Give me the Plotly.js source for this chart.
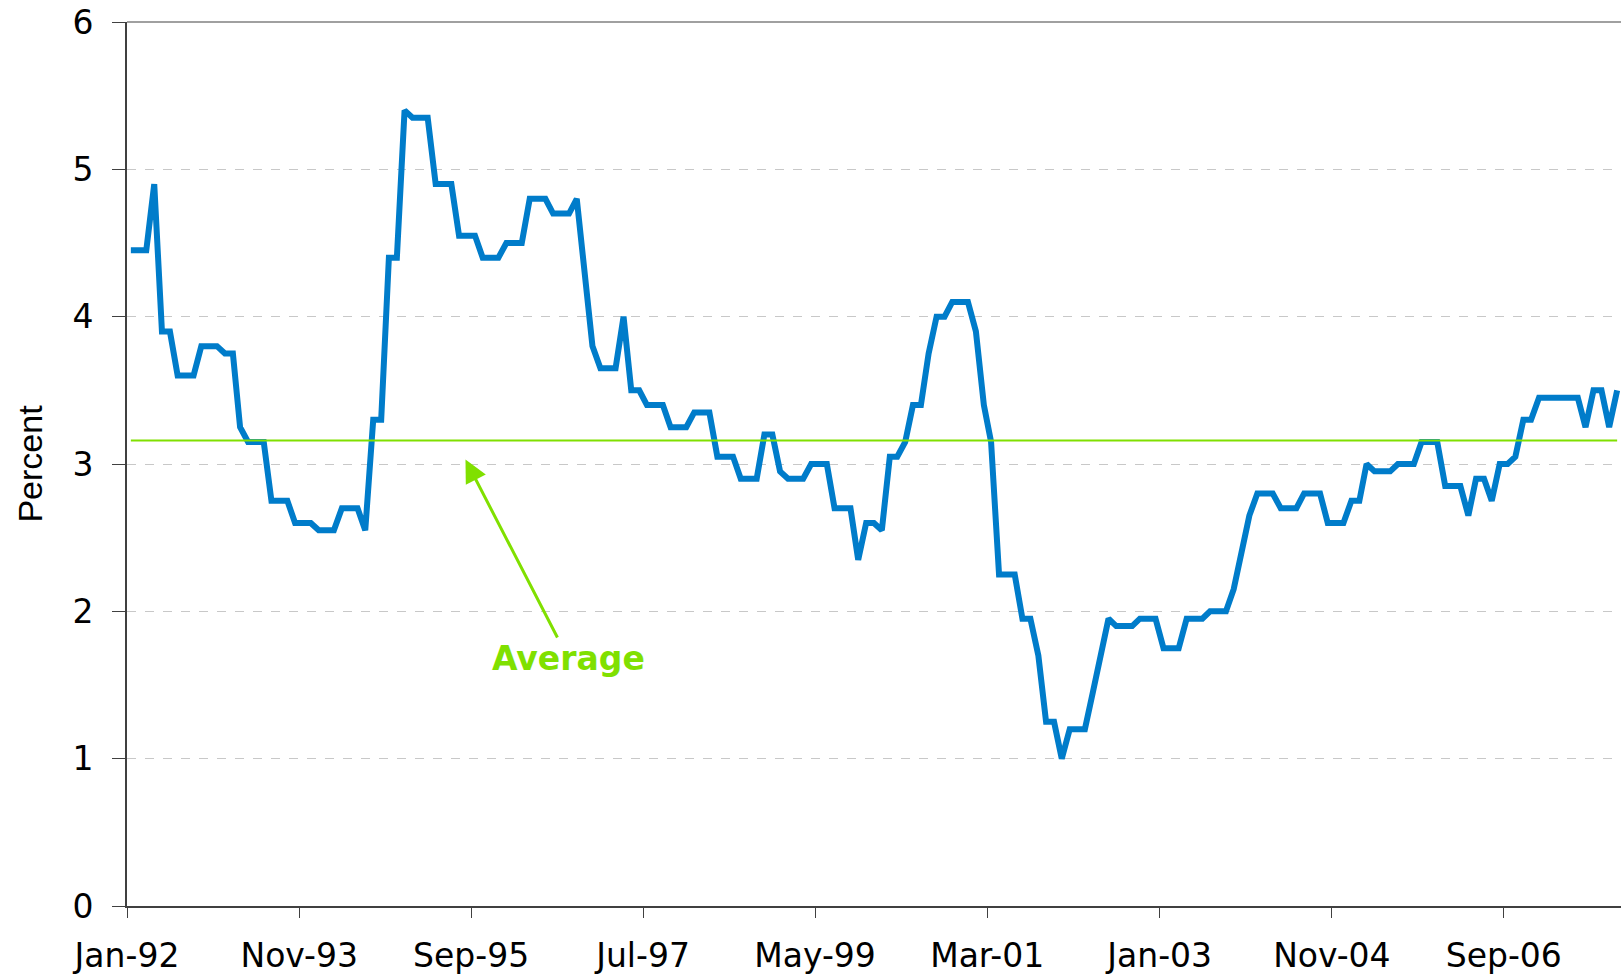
<!DOCTYPE html>
<html>
<head>
<meta charset="utf-8">
<script src="https://cdn.plot.ly/plotly-3.0.1.min.js"></script>
<style>html,body{margin:0;padding:0;background:#fff;}#chart{width:1621px;height:976px;}</style>
</head>
<body>
<div id="chart"></div>
<script>
// Monthly series, Jan-1992 .. Nov-2007 (percent)
const startYear = 1992;
const rateValues = [
  4.45,4.45,4.45,4.9,3.9,3.9,3.6,3.6,3.6,3.8,3.8,3.8,
  3.75,3.75,3.25,3.15,3.15,3.15,2.75,2.75,2.75,2.6,2.6,2.6,
  2.55,2.55,2.55,2.7,2.7,2.7,2.55,3.3,3.3,4.4,4.4,5.4,
  5.35,5.35,5.35,4.9,4.9,4.9,4.55,4.55,4.55,4.4,4.4,4.4,
  4.5,4.5,4.5,4.8,4.8,4.8,4.7,4.7,4.7,4.8,4.3,3.8,
  3.65,3.65,3.65,4.0,3.5,3.5,3.4,3.4,3.4,3.25,3.25,3.25,
  3.35,3.35,3.35,3.05,3.05,3.05,2.9,2.9,2.9,3.2,3.2,2.95,
  2.9,2.9,2.9,3.0,3.0,3.0,2.7,2.7,2.7,2.35,2.6,2.6,
  2.55,3.05,3.05,3.15,3.4,3.4,3.75,4.0,4.0,4.1,4.1,4.1,
  3.9,3.4,3.15,2.25,2.25,2.25,1.95,1.95,1.7,1.25,1.25,1.0,
  1.2,1.2,1.2,1.45,1.7,1.95,1.9,1.9,1.9,1.95,1.95,1.95,
  1.75,1.75,1.75,1.95,1.95,1.95,2.0,2.0,2.0,2.15,2.4,2.65,
  2.8,2.8,2.8,2.7,2.7,2.7,2.8,2.8,2.8,2.6,2.6,2.6,
  2.75,2.75,3.0,2.95,2.95,2.95,3.0,3.0,3.0,3.15,3.15,3.15,
  2.85,2.85,2.85,2.65,2.9,2.9,2.75,3.0,3.0,3.05,3.3,3.3,
  3.45,3.45,3.45,3.45,3.45,3.45,3.25,3.5,3.5,3.25,3.5
];
const averageValue = 3.16;
const yTickVals = [0,1,2,3,4,5,6];
const axisStart = '1992-01-01';
const axisEnd = '2007-12-01';
const annotationText = 'Average';

// month categories (mid-month dates)
const months = rateValues.map((v, i) => {
  const y = startYear + Math.floor(i / 12);
  const m = (i % 12) + 1;
  return y + '-' + String(m).padStart(2, '0') + '-16';
});
const averageSeries = months.map(() => averageValue);

const blue = '#007CCA';
const green = '#80E000';
const axisColor = '#404040';
const tickFont = {family: 'DejaVu Sans, Verdana, sans-serif', size: 33, color: '#000'};

const traces = [
  {x: months, y: rateValues, type: 'scatter', mode: 'lines',
   line: {color: blue, width: 6, shape: 'linear'}, hoverinfo: 'skip'},
  {x: months, y: averageSeries, type: 'scatter', mode: 'lines',
   line: {color: green, width: 2}, hoverinfo: 'skip'}
];

const layout = {
  width: 1621, height: 976,
  margin: {l: 127, r: 0, t: 22, b: 70},
  paper_bgcolor: '#fff', plot_bgcolor: '#fff',
  showlegend: false,
  xaxis: {
    type: 'date', range: [axisStart, axisEnd],
    tick0: '1992-01-01', dtick: 'M22', tickformat: '%b-%y',
    ticks: 'outside', ticklen: 10, tickwidth: 1, tickcolor: axisColor,
    showline: true, linecolor: axisColor, linewidth: 2,
    showgrid: false, zeroline: false,
    tickfont: tickFont, ticklabelstandoff: 9
  },
  yaxis: {
    range: [0, 6], tickvals: yTickVals,
    ticks: 'outside', ticklen: 13, tickwidth: 1, tickcolor: axisColor,
    showline: true, linecolor: axisColor, linewidth: 2,
    showgrid: true, gridcolor: '#c8c8c8', griddash: 'dash', gridwidth: 1,
    zeroline: false,
    tickfont: tickFont, ticklabelstandoff: 12,
    title: {text: 'Percent', font: {family: 'Liberation Sans, Arial, sans-serif', size: 34, color: '#000'}, standoff: 20}
  },
  shapes: [
    {type: 'line', xref: 'paper', yref: 'paper', x0: 0, x1: 1, y0: 1, y1: 1,
     line: {color: '#808080', width: 1.5}}
  ],
  annotations: [
    {x: '1995-08-10', y: 3.03, xref: 'x', yref: 'y',
     ax: '1996-09-13', ay: 1.68, axref: 'x', ayref: 'y',
     text: annotationText, showarrow: true,
     arrowhead: 2, arrowsize: 1.5, arrowwidth: 3, arrowcolor: green,
     font: {family: 'DejaVu Sans, Verdana, sans-serif', size: 33, color: green, weight: 'bold'}}
  ]
};

Plotly.newPlot('chart', traces, layout, {displayModeBar: false, staticPlot: true});
</script>
</body>
</html>
